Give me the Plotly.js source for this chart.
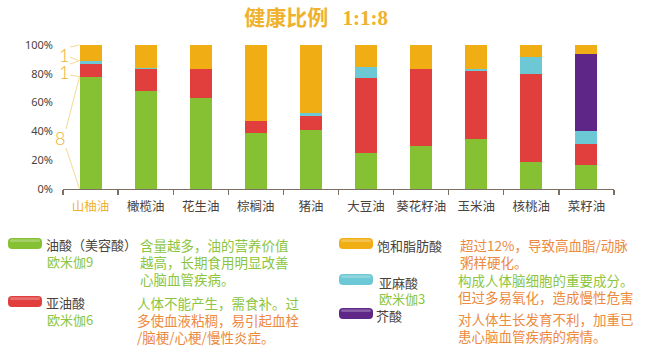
<!DOCTYPE html>
<html>
<head>
<meta charset="utf-8">
<script src="https://cdn.plot.ly/plotly-3.0.1.min.js"></script>
<style>html,body{margin:0;padding:0;background:#fff;}#chart{width:645px;height:351px;}</style>
</head>
<body>
<div id="chart"></div>
<script>
// ---- data (percent of fatty acids) ----
const oils = ['山柚油','橄榄油','花生油','棕榈油','猪油','大豆油','葵花籽油','玉米油','核桃油','菜籽油'];
const oleic      = [78, 68, 63, 39, 41, 25, 30, 35, 19, 17];
const linoleic   = [ 9, 15, 20,  8, 10, 52, 53, 47, 61, 14];
const linolenic  = [ 2,  1,  0,  0,  2,  8,  0,  1, 12,  9];
const erucic     = [ 0,  0,  0,  0,  0,  0,  0,  0,  0, 54];
const saturated  = [11, 16, 17, 53, 47, 15, 17, 17,  8,  6];
const yTicks = [0, 20, 40, 60, 80, 100];
const yTickText = ['0%', '20%', '40%', '60%', '80%', '100%'];
const ratioLabels = ['1', '1', '8'];

const C = {green:'#86c133', red:'#e03f3d', yellow:'#f1ae14', cyan:'#6cc8d5', purple:'#5e2687',
           gold:'#efb22c', goldLine:'#f5d995', txtGreen:'#8cc540', txtOrange:'#ec8a3e', dark:'#4a423b'};

const W = 645, H = 351, M = {l:63, r:31, t:45, b:162};
const PW = W - M.l - M.r, PH = H - M.t - M.b;
const px = x => (x - M.l) / PW;            // pixel -> paper x
const py = y => (H - M.b - y) / PH;        // pixel -> paper y
const dx = c => (c + 0.5) / oils.length;   // category coord -> paper x
const dy = v => v / 100;                   // value -> paper y

const CJK = '"Noto Sans CJK SC", "Noto Sans", sans-serif';

function bar(name, vals, color) {
  return {type:'bar', name, x:oils, y:vals, width:0.4, marker:{color, line:{width:0}},
          hoverinfo:'skip', showlegend:false};
}
const traces = [
  bar('油酸', oleic, C.green),
  bar('亚油酸', linoleic, C.red),
  bar('亚麻酸', linolenic, C.cyan),
  bar('芥酸', erucic, C.purple),
  bar('饱和脂肪酸', saturated, C.yellow)
];

const shapes = [];
const annotations = [];

// bracket lines for 1:1:8 on first bar
function line(x0, y0, x1, y1) {
  shapes.push({type:'line', xref:'paper', yref:'paper', x0, y0, x1, y1,
               line:{color:C.goldLine, width:1}});
}
const barL = dx(0) - 0.2 / oils.length;
const s0 = oleic[0], s1 = oleic[0] + linoleic[0] + linolenic[0];
line(px(70), py(47), barL, dy(100));
line(px(70), py(57), barL, dy(s1));
line(px(70), py(64), barL, dy(s1));
line(px(70), py(75), barL, dy(s0));
line(px(66), py(129), barL, dy(s0));
line(px(66), py(148), barL, dy(0));
const ratioPos = [[64, 55], [64, 72], [60, 138]];
ratioLabels.forEach((t, i) => {
  annotations.push({xref:'paper', yref:'paper', x:px(ratioPos[i][0]), y:py(ratioPos[i][1]),
    xanchor:'center', yanchor:'middle', showarrow:false, text:t,
    font:{family:'Lato, "Open Sans", sans-serif', size:18, color:C.gold, weight:300}});
});

// legend pills
function pill(x0, y0, color) {
  const w = 34, h = 11, r = 4;
  const x1 = x0 + w, y1 = y0 + h;
  const p = (x, y) => px(x) + ',' + py(y);
  const path = 'M' + p(x0 + r, y0) + ' L' + p(x1 - r, y0) + ' Q' + p(x1, y0) + ' ' + p(x1, y0 + r) +
    ' L' + p(x1, y1 - r) + ' Q' + p(x1, y1) + ' ' + p(x1 - r, y1) + ' L' + p(x0 + r, y1) +
    ' Q' + p(x0, y1) + ' ' + p(x0, y1 - r) + ' L' + p(x0, y0 + r) + ' Q' + p(x0, y0) + ' ' + p(x0 + r, y0) + ' Z';
  shapes.push({type:'path', xref:'paper', yref:'paper', path, fillcolor:color, line:{width:0}});
  const hp = 'M' + p(x0 + 3, y0 + 1.2) + ' L' + p(x1 - 3, y0 + 1.2) + ' Q' + p(x1 - 1, y0 + 3) + ' ' + p(x1 - 3, y0 + 4) +
    ' L' + p(x0 + 3, y0 + 4) + ' Q' + p(x0 + 1, y0 + 3) + ' ' + p(x0 + 3, y0 + 1.2) + ' Z';
  shapes.push({type:'path', xref:'paper', yref:'paper', path:hp, fillcolor:'rgba(255,255,255,0.25)', line:{width:0}});
}
pill(8, 238, C.green);
pill(8, 296, C.red);
pill(339, 238, C.yellow);
pill(339, 274, C.cyan);
pill(339, 308, C.purple);

function txt(x, y, text, color, size) {
  annotations.push({xref:'paper', yref:'paper', x:px(x), y:py(y), xanchor:'left', yanchor:'middle',
    align:'left', showarrow:false, borderpad:0, text, font:{family:CJK, size:size || 13, color}});
}
// left column
txt(45, 244, '油酸（美容酸）', C.dark, 13);
txt(46, 261, '欧米伽9', C.txtGreen, 13);
txt(139, 245, '含量越多，油的营养价值', C.txtGreen, 13.5);
txt(139, 262, '越高，长期食用明显改善', C.txtGreen, 13.5);
txt(139, 279, '心脑血管疾病。', C.txtGreen, 13.5);
txt(45, 302, '亚油酸', C.dark, 13);
txt(46, 319, '欧米伽6', C.txtGreen, 13);
txt(136, 303, '人体不能产生，需食补。过', C.txtGreen, 13.5);
txt(136, 320, '多使血液粘稠，易引起血栓', C.txtOrange, 13.5);
txt(136, 337, '/脑梗/心梗/慢性炎症。', C.txtOrange, 13.5);
// right column
txt(376, 245, '饱和脂肪酸', C.dark, 13);
txt(459, 245, '超过12%，导致高血脂/动脉', C.txtOrange, 13.5);
txt(459, 262, '粥样硬化。', C.txtOrange, 13.5);
txt(378, 282, '亚麻酸', C.dark, 13);
txt(378, 298, '欧米伽3', C.txtGreen, 13);
txt(457, 280, '构成人体脑细胞的重要成分。', C.txtGreen, 13.5);
txt(457, 297, '但过多易氧化，造成慢性危害', C.txtOrange, 13.5);
txt(375, 315, '芥酸', C.dark, 13);
txt(457, 319, '对人体生长发育不利，加重已', C.txtOrange, 13.5);
txt(457, 336, '患心脑血管疾病的病情。', C.txtOrange, 13.5);

const tickText = oils.map((o, i) => i === 0 ? '<span style="color:' + C.gold + '">' + o + '</span>' : o);

const layout = {
  width:W, height:H, margin:M, paper_bgcolor:'#fff', plot_bgcolor:'#fff',
  barmode:'stack', showlegend:false,
  title:{text:'健康比例\u00a0\u00a0 <span style="font-family:\'Liberation Serif\', serif">1:1:8</span>',
         x:0.49, xanchor:'center', y:1 - 18/H, yanchor:'middle', yref:'container',
         font:{family:CJK, size:21, color:C.gold, weight:700}},
  xaxis:{type:'category', range:[-0.5, 9.5], showline:true, linecolor:'#7d6e62', linewidth:1.3,
         ticks:'outside', tickson:'boundaries', ticklen:5, tickcolor:'#7d6e62', tickwidth:1.3,
         tickvals:oils, ticktext:tickText, tickangle:0, ticklabelstandoff:6,
         tickfont:{family:CJK, size:12.5, color:C.dark}, showgrid:false, zeroline:false, fixedrange:true},
  yaxis:{range:[0, 100], tickvals:yTicks, ticktext:yTickText, showgrid:false, zeroline:false, showline:false,
         ticks:'', ticklabelstandoff:9, tickfont:{family:'"Noto Sans", sans-serif', size:11, color:C.dark}, fixedrange:true},
  shapes, annotations
};
Plotly.newPlot('chart', traces, layout, {displayModeBar:false, staticPlot:true});
</script>
</body>
</html>
